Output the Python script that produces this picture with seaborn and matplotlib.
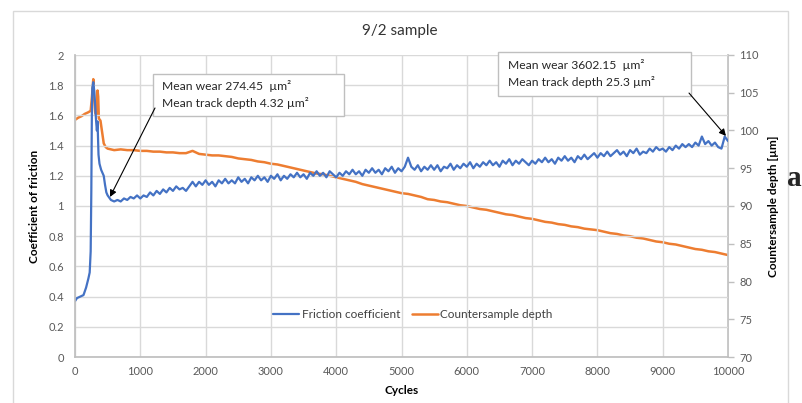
import matplotlib
matplotlib.use("Agg")
import matplotlib.pyplot as plt
import seaborn as sns
import pandas as pd
from matplotlib.patches import Rectangle
from matplotlib.ticker import FuncFormatter

# ---------------- data ----------------
fric_cycles_early = [0, 30, 80, 130, 170, 205, 225, 240, 250, 258, 265, 280, 295, 310,
                     320, 335, 345, 360, 375, 400, 420, 440, 460, 480]
fric_values_early = [0.37, 0.39, 0.40, 0.41, 0.46, 0.52, 0.56, 0.70, 1.10, 1.60, 1.78, 1.82,
                     1.76, 1.66, 1.58, 1.50, 1.56, 1.34, 1.28, 1.24, 1.22, 1.20, 1.14, 1.09]
fric_values_main = [  # cycles 500..10000 step 50
    1.07, 1.04, 1.03, 1.04, 1.03, 1.05, 1.04, 1.06, 1.05, 1.07,
    1.05, 1.07, 1.06, 1.09, 1.07, 1.10, 1.08, 1.11, 1.09, 1.12,
    1.10, 1.13, 1.11, 1.12, 1.10, 1.13, 1.16, 1.13, 1.16, 1.14,
    1.17, 1.14, 1.16, 1.13, 1.17, 1.15, 1.18, 1.15, 1.17, 1.15,
    1.19, 1.16, 1.18, 1.15, 1.19, 1.17, 1.20, 1.17, 1.19, 1.16,
    1.20, 1.18, 1.21, 1.17, 1.20, 1.18, 1.21, 1.19, 1.22, 1.19,
    1.21, 1.18, 1.22, 1.20, 1.23, 1.20, 1.22, 1.19, 1.23, 1.21,
    1.19, 1.22, 1.20, 1.23, 1.21, 1.24, 1.21, 1.23, 1.20, 1.24,
    1.22, 1.25, 1.22, 1.24, 1.21, 1.25, 1.23, 1.26, 1.22, 1.25,
    1.23, 1.26, 1.32, 1.26, 1.24, 1.27, 1.23, 1.26, 1.24, 1.27,
    1.24, 1.27, 1.23, 1.26, 1.25, 1.28, 1.24, 1.27, 1.25, 1.28,
    1.26, 1.29, 1.25, 1.28, 1.26, 1.29, 1.27, 1.30, 1.27, 1.29,
    1.26, 1.30, 1.28, 1.31, 1.27, 1.30, 1.28, 1.31, 1.29, 1.27,
    1.30, 1.28, 1.31, 1.29, 1.32, 1.29, 1.31, 1.28, 1.32, 1.30,
    1.33, 1.30, 1.32, 1.29, 1.33, 1.31, 1.34, 1.31, 1.33, 1.35,
    1.32, 1.35, 1.33, 1.36, 1.33, 1.35, 1.37, 1.34, 1.36, 1.33,
    1.37, 1.35, 1.38, 1.34, 1.36, 1.35, 1.38, 1.36, 1.39, 1.37,
    1.38, 1.36, 1.39, 1.37, 1.40, 1.38, 1.41, 1.39, 1.41, 1.39,
    1.42, 1.40, 1.46, 1.41, 1.43, 1.40, 1.42, 1.39, 1.38, 1.46,
    1.43,
]
fric_cycles_main = list(range(500, 10001, 50))

depth_cycles_early = [0, 50, 100, 150, 200, 240, 260, 280, 295, 310, 330, 345, 355, 365,
                      390, 420, 440, 470]
depth_values_early = [101.4, 101.7, 101.9, 102.2, 102.4, 102.6, 104.5, 106.8, 104.0, 102.3,
                      102.0, 105.3, 104.5, 101.6, 101.3, 99.5, 98.3, 97.8]
depth_values_main = [  # cycles 500..10000 step 100
    97.6, 97.4, 97.5, 97.4, 97.4, 97.3, 97.3, 97.2, 97.2, 97.1,
    97.1, 97.0, 97.0, 97.3, 96.9, 96.8, 96.7, 96.7, 96.6, 96.5,
    96.3, 96.2, 96.1, 95.9, 95.8, 95.6, 95.5, 95.3, 95.1, 94.9,
    94.7, 94.5, 94.3, 94.2, 94.0, 93.8, 93.6, 93.4, 93.2, 92.9,
    92.7, 92.5, 92.3, 92.1, 91.9, 91.7, 91.6, 91.4, 91.2, 90.9,
    90.8, 90.6, 90.5, 90.3, 90.1, 90.0, 89.8, 89.6, 89.5, 89.3,
    89.1, 88.9, 88.8, 88.6, 88.4, 88.3, 88.1, 87.9, 87.8, 87.6,
    87.5, 87.3, 87.2, 87.0, 86.9, 86.8, 86.6, 86.4, 86.3, 86.1,
    86.0, 85.8, 85.7, 85.5, 85.3, 85.2, 85.0, 84.9, 84.7, 84.5,
    84.3, 84.2, 84.0, 83.9, 83.7, 83.5,
]
depth_cycles_main = list(range(500, 10001, 100))

x_ticks = list(range(0, 10001, 1000))
y_left_ticks = [0, 0.2, 0.4, 0.6, 0.8, 1, 1.2, 1.4, 1.6, 1.8, 2]
y_right_ticks = [70, 75, 80, 85, 90, 95, 100, 105, 110]

note1_lines = ["Mean wear 274.45  µm²", "Mean track depth 4.32 µm²"]
note2_lines = ["Mean wear 3602.15  µm²", "Mean track depth 25.3 µm²"]

fric = pd.DataFrame({"Cycles": fric_cycles_early + fric_cycles_main,
                     "Friction": fric_values_early + fric_values_main})
depth = pd.DataFrame({"Cycles": depth_cycles_early + depth_cycles_main,
                      "Depth": depth_values_early + depth_values_main})

# ---------------- style ----------------
sns.set_theme(style="white")
plt.rcParams["font.family"] = ["Lato", "DejaVu Sans"]
BLUE = "#4472C4"
ORANGE = "#ED7D31"
GRID = "#d9d9d9"
TXT = "#595959"

fig = plt.figure(figsize=(8.02, 4.03), dpi=100)
ax = fig.add_axes([75 / 802, 1 - 357 / 403, (728 - 75) / 802, (357 - 55) / 403])
ax2 = ax.twinx()

# outer chart frame
fig.patches.append(Rectangle((13 / 802, -0.2), (788 - 13) / 802, 1.2 - 11 / 403,
                             transform=fig.transFigure, fill=False,
                             edgecolor=GRID, linewidth=1.0))

sns.lineplot(data=depth, x="Cycles", y="Depth", ax=ax2, color=ORANGE, linewidth=1.8,
             label="Countersample depth", legend=False)
sns.lineplot(data=fric, x="Cycles", y="Friction", ax=ax, color=BLUE, linewidth=1.6,
             label="Friction coefficient", legend=False)
ax.set_zorder(ax2.get_zorder() + 1)
ax.patch.set_visible(False)

ax.set_xlim(0, 10000)
ax.set_ylim(0, 2)
ax2.set_ylim(70, 110)
ax.set_xticks(x_ticks)
ax.set_yticks(y_left_ticks)
ax2.set_yticks(y_right_ticks)
ax.yaxis.set_major_formatter(FuncFormatter(lambda v, p: f"{v:g}"))

ax.grid(True, color=GRID, linewidth=1.0)
ax2.grid(False)
for a in (ax, ax2):
    for s in a.spines.values():
        s.set_visible(False)
ax.spines["bottom"].set_visible(True)
ax.spines["bottom"].set_color("#bfbfbf")
ax.spines["left"].set_visible(True)
ax.spines["left"].set_color("#bfbfbf")
ax2.spines["right"].set_visible(True)
ax2.spines["right"].set_color("#bfbfbf")

ax.tick_params(axis="x", length=0, pad=6.5, labelsize=8, labelcolor=TXT)
ax.tick_params(axis="y", length=0, pad=8, labelsize=8, labelcolor=TXT)
ax2.tick_params(axis="y", length=4, width=1, color="#bfbfbf", pad=4,
                labelsize=8, labelcolor=TXT, direction="out")

ax.set_xlabel("Cycles", fontsize=8.5, fontweight="bold", color="black", labelpad=6)
ax.set_ylabel("Coefficient of friction", fontsize=8.5, fontweight="bold", color="black",
              labelpad=6)
ax2.set_ylabel("Countersample depth [µm]", fontsize=8.5, fontweight="bold", color="black",
               labelpad=7)

fig.text(400 / 802, 1 - 31 / 403, "9/2 sample", ha="center", va="center",
         fontsize=11, color="#333333")

# legend
h1, l1 = ax.get_legend_handles_labels()
h2, l2 = ax2.get_legend_handles_labels()
ax.legend(h1 + h2, l1 + l2, loc="center", bbox_to_anchor=(413 / 802, 1 - 315 / 403),
          bbox_transform=fig.transFigure, ncol=2, frameon=False, fontsize=8.5,
          handlelength=2.2, handletextpad=0.2, columnspacing=1.0,
          labelcolor="#404040")

# annotation boxes (callouts)
def callout(ax, x0, x1, y0, y1, tx, ty1, ty2, lines, arrow_from, arrow_to):
    ax.add_patch(Rectangle((x0, y0), x1 - x0, y1 - y0, facecolor="white",
                           edgecolor="#bfbfbf", linewidth=1.0, zorder=5, clip_on=False))
    for ty, s in zip((ty1, ty2), lines):
        ax.text(tx, ty, s, fontsize=8.7, color="#262626", va="center", ha="left",
                zorder=6, fontfamily="Lato", clip_on=False)
    ax.annotate("", xy=arrow_to, xytext=arrow_from, zorder=6,
                arrowprops=dict(arrowstyle="-|>", color="black", lw=0.8,
                                mutation_scale=10, shrinkA=0, shrinkB=0))

callout(ax, 1194, 4119, 1.596, 1.874, 1332, 1.795, 1.682, note1_lines,
        (1225, 1.649), (536, 1.06))
callout(ax, 6478, 9433, 1.728, 2.02, 6631, 1.934, 1.821, note2_lines,
        (9403, 1.748), (9969, 1.464))

fig.text(787 / 802, 1 - 186 / 403, "a", ha="left", va="baseline",
         fontsize=21, fontweight="bold", fontfamily="Liberation Serif")

fig.savefig("out.png", dpi=100)
